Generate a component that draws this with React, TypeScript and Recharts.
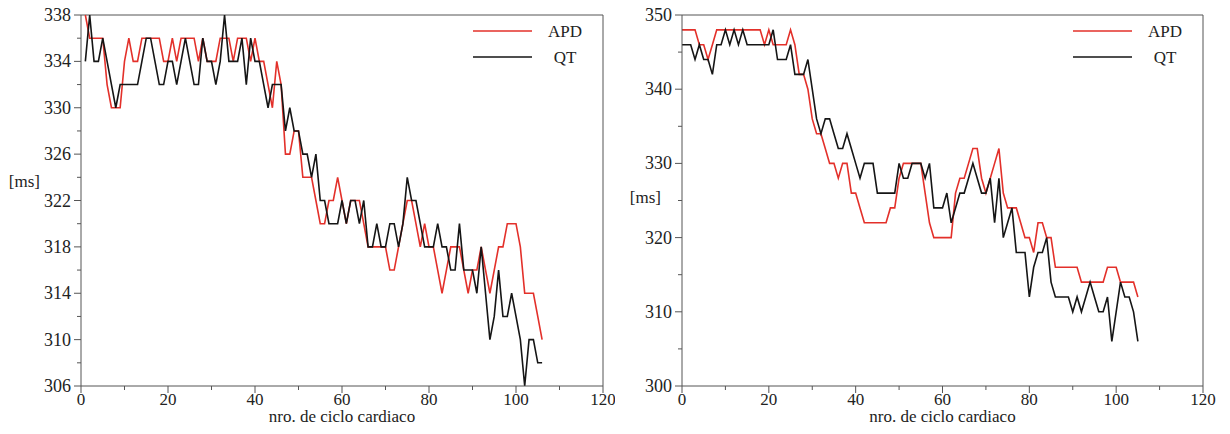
import React from 'react'
import { LineChart, Line, XAxis, YAxis, ReferenceLine, Legend, Label } from 'recharts';

// cycle numbers start at these values, one sample per cardiac cycle
const leftStart = 1;
const rightStart = 0;

const leftApd = [
  338, 336, 336, 336, 336, 332, 330, 330, 330, 334,
  336, 334, 334, 336, 336, 336, 336, 336, 334, 334,
  336, 334, 336, 336, 336, 336, 334, 336, 334, 334,
  334, 336, 336, 336, 334, 336, 336, 336, 334, 336,
  334, 334, 332, 330, 334, 332, 326, 326, 328, 328,
  324, 324, 324, 322, 320, 320, 322, 322, 324, 322,
  320, 322, 322, 322, 320, 318, 318, 318, 318, 318,
  316, 316, 318, 320, 322, 322, 320, 318, 320, 318,
  318, 316, 314, 316, 318, 318, 318, 316, 314, 316,
  316, 318, 316, 314, 316, 318, 318, 320, 320, 320,
  318, 314, 314, 314, 312, 310,
];

const leftQt = [
  334, 338, 334, 334, 336, 334, 332, 330, 332, 332,
  332, 332, 332, 334, 336, 336, 334, 332, 332, 334,
  334, 332, 334, 336, 334, 332, 332, 336, 334, 334,
  332, 334, 338, 334, 334, 334, 336, 332, 336, 334,
  334, 332, 330, 332, 332, 332, 328, 330, 328, 328,
  326, 326, 324, 326, 322, 322, 320, 320, 320, 322,
  320, 322, 322, 320, 322, 318, 318, 320, 318, 318,
  320, 320, 318, 320, 324, 322, 322, 320, 318, 318,
  318, 320, 318, 318, 316, 316, 320, 316, 316, 316,
  314, 318, 314, 310, 312, 316, 312, 312, 314, 312,
  310, 306, 310, 310, 308, 308,
];

const rightApd = [
  348, 348, 348, 348, 346, 346, 344, 346, 348, 348,
  348, 348, 348, 348, 348, 348, 348, 348, 348, 346,
  348, 346, 346, 346, 346, 348, 346, 342, 342, 340,
  336, 334, 334, 332, 330, 330, 328, 330, 330, 326,
  326, 324, 322, 322, 322, 322, 322, 322, 324, 324,
  328, 330, 330, 330, 330, 330, 326, 322, 320, 320,
  320, 320, 320, 326, 328, 328, 330, 332, 332, 328,
  326, 328, 330, 332, 326, 324, 324, 324, 322, 320,
  320, 318, 322, 322, 320, 320, 316, 316, 316, 316,
  316, 316, 314, 314, 314, 314, 314, 314, 316, 316,
  316, 314, 314, 314, 314, 312,
];

const rightQt = [
  346, 346, 346, 344, 346, 344, 344, 342, 346, 346,
  348, 346, 348, 346, 348, 346, 346, 346, 346, 346,
  346, 348, 344, 344, 344, 346, 342, 342, 342, 344,
  340, 336, 334, 336, 336, 334, 332, 332, 334, 332,
  330, 328, 330, 330, 330, 326, 326, 326, 326, 326,
  330, 328, 328, 330, 330, 330, 328, 330, 324, 324,
  324, 326, 322, 324, 326, 326, 328, 330, 328, 326,
  326, 328, 322, 328, 320, 322, 324, 318, 318, 318,
  312, 316, 318, 318, 320, 314, 312, 312, 312, 312,
  310, 312, 310, 312, 314, 312, 310, 310, 312, 306,
  310, 314, 312, 312, 310, 306,
];

const xTicks = [0, 10, 20, 30, 40, 50, 60, 70, 80, 90, 100, 110, 120];
const leftYTicks = [306, 308, 310, 312, 314, 316, 318, 320, 322, 324, 326, 328, 330, 332, 334, 336, 338];
const rightYTicks = [300, 305, 310, 315, 320, 325, 330, 335, 340, 345, 350];

const xTitle = 'nro. de ciclo cardiaco';
const yTitle = '[ms]';

const RED = '#e3302a';
const BLACK = '#151515';
const AXIS = '#555';
const FONT = '"Liberation Serif", "Times New Roman", "DejaVu Serif", serif';
const textStyle = { fontFamily: FONT };

const series = [
  { key: 'apd', name: 'APD', color: RED },
  { key: 'qt', name: 'QT', color: BLACK },
];

function buildRows(start: number, apd: number[], qt: number[]) {
  return apd.map((v, i) => ({ cycle: start + i, apd: v, qt: qt[i] }));
}

const leftData = buildRows(leftStart, leftApd, leftQt);
const rightData = buildRows(rightStart, rightApd, rightQt);

function makeYTick(base: number, majorStep: number) {
  return (props: any) => {
    const { x, y, payload } = props;
    const major = (payload.value - base) % majorStep === 0;
    return (
      <g>
        <line x1={x - (major ? 7 : 4)} x2={x} y1={y} y2={y} stroke={AXIS} />
        {major && (
          <text x={x - 10} y={y} dy={6} textAnchor="end" fontSize={18} style={textStyle} fill="#222">
            {payload.value}
          </text>
        )}
      </g>
    );
  };
}

const xTick = (props: any) => {
  const { x, y, payload } = props;
  const major = payload.value % 20 === 0;
  return (
    <g>
      <line x1={x} x2={x} y1={y} y2={y + (major ? 7 : 4)} stroke={AXIS} />
      {major && (
        <text x={x} y={y + 19} textAnchor="middle" fontSize={17} style={textStyle} fill="#222">
          {payload.value}
        </text>
      )}
    </g>
  );
};

const renderLegend = () => (
  <svg width={130} height={50}>
    {series.map((s, i) => (
      <g key={s.key}>
        <line x1={3} x2={62} y1={13 + i * 26} y2={13 + i * 26} stroke={s.color} strokeWidth={1.6} />
        <text x={95} y={13 + i * 26} dy={6} textAnchor="middle" fontSize={17} style={textStyle} fill="#222">
          {s.name}
        </text>
      </g>
    ))}
  </svg>
);

type PanelProps = {
  data: any[];
  yDomain: [number, number];
  yTicks: number[];
  yTickBase: number;
  yMajor: number;
  margin: { top: number; right: number; bottom: number; left: number };
  yTitleX: number;
  yTitleY: number;
  legendLeft: number;
};

function Panel({ data, yDomain, yTicks, yTickBase, yMajor, margin, yTitleX, yTitleY, legendLeft }: PanelProps) {
  return (
    <LineChart width={615} height={434} data={data} margin={margin}>
      <XAxis
        type="number"
        dataKey="cycle"
        domain={[0, 120]}
        ticks={xTicks}
        interval={0}
        height={20}
        tickSize={0}
        tickMargin={0}
        tick={xTick}
        axisLine={{ stroke: AXIS }}
      >
        <Label
          content={(p: any) => {
            const vb = p.viewBox;
            return (
              <text x={vb.x + vb.width / 2} y={vb.y + 36} textAnchor="middle" fontSize={17} style={textStyle} fill="#222">
                {xTitle}
              </text>
            );
          }}
        />
      </XAxis>
      <YAxis
        type="number"
        domain={yDomain}
        ticks={yTicks}
        interval={0}
        width={60}
        tickSize={0}
        tickMargin={0}
        tick={makeYTick(yTickBase, yMajor)}
        axisLine={{ stroke: AXIS }}
      >
        <Label
          content={() => (
            <text x={yTitleX} y={yTitleY} dy={6} textAnchor="end" fontSize={17} style={textStyle} fill="#222">
              {yTitle}
            </text>
          )}
        />
      </YAxis>
      <ReferenceLine y={yDomain[1]} stroke={AXIS} />
      <ReferenceLine x={120} stroke={AXIS} />
      <Legend
        content={renderLegend}
        layout="vertical"
        align="center"
        verticalAlign="middle"
        wrapperStyle={{ left: legendLeft, top: 18, width: 130, height: 50 }}
      />
      {series.map((s) => (
        <Line
          key={s.key}
          type="linear"
          dataKey={s.key}
          name={s.name}
          stroke={s.color}
          strokeWidth={1.6}
          dot={false}
          isAnimationActive={false}
        />
      ))}
    </LineChart>
  );
}

export default function App() {
  return (
    <div style={{ position: 'absolute', left: 0, top: 0, width: 1230, height: 434, background: '#fff' }}>
      <div style={{ position: 'absolute', left: 0, top: 0 }}>
        <Panel
          data={leftData}
          yDomain={[306, 338]}
          yTicks={leftYTicks}
          yTickBase={306}
          yMajor={4}
          margin={{ top: 15, right: 12, bottom: 28, left: 21 }}
          yTitleX={40}
          yTitleY={181}
          legendLeft={470}
        />
      </div>
      <div style={{ position: 'absolute', left: 615, top: 0 }}>
        <Panel
          data={rightData}
          yDomain={[300, 350]}
          yTicks={rightYTicks}
          yTickBase={300}
          yMajor={10}
          margin={{ top: 15, right: 27, bottom: 28, left: 7 }}
          yTitleX={46}
          yTitleY={197}
          legendLeft={455}
        />
      </div>
    </div>
  );
}
